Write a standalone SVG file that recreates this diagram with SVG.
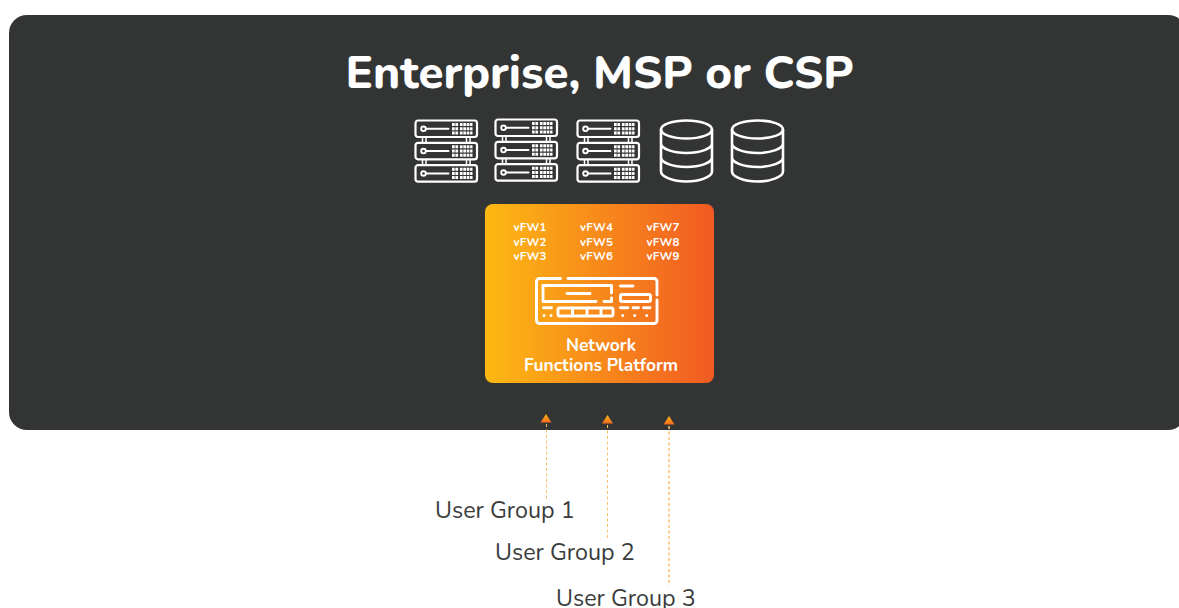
<svg xmlns="http://www.w3.org/2000/svg" width="1179" height="608" viewBox="0 0 1179 608">
<style>
text{font-family:"Nunito","Lato","Open Sans",sans-serif}
.ttl{font-size:45.600px;font-weight:800;fill:#fff;text-anchor:middle}
.fw{font-size:11.500px;font-weight:700;fill:#fff;text-anchor:middle;letter-spacing:.2px}
.nf{font-size:17.400px;font-weight:700;fill:#fff;text-anchor:middle}
.ug{font-size:23.300px;fill:#3a3c3c}
.ln{fill:none;stroke:#fff;stroke-linecap:round;stroke-linejoin:round}
.dash{fill:none;stroke:#fbbf6c;stroke-dasharray:3 2.5}
</style>
<defs>
<linearGradient id="og" x1="0" y1="0" x2="1" y2="0"><stop offset="0" stop-color="#fdb913"/><stop offset="1" stop-color="#f15a22"/></linearGradient>
<linearGradient id="ar" x1="0" y1="0" x2="0" y2="1"><stop offset="0" stop-color="#fdb913"/><stop offset="1" stop-color="#f26a21"/></linearGradient>
<g id="row">
<rect x="1" y="1" width="61.500" height="16.500" rx="2.500" class="ln" stroke-width="2.200"/>
<circle cx="9" cy="9.300" r="2.300" class="ln" stroke-width="1.900"/>
<path d="M11.500 9.300H34" class="ln" stroke-width="2"/>
<path d="M37.500 5H58M37.500 9.200H58M37.500 13.400H58" fill="none" stroke="#fff" stroke-width="3" stroke-dasharray="2.700 .7 2.700 1.800 2.700 .7 2.700 .7 2.700 .7"/>
</g>
<g id="server">
<use href="#row"/><use href="#row" y="22.300"/><use href="#row" y="44.700"/>
<path d="M8 18V23M11.500 18V23M52 18V23M55.500 18V23M8 40.500V45M11.500 40.500V45M52 40.500V45M55.500 40.500V45" class="ln" stroke-width="1.500"/>
</g>
<g id="db">
<ellipse cx="26.500" cy="10" rx="25.500" ry="9" class="ln" stroke-width="2.600"/>
<path d="M1 10V52C1 57 12.500 62 26.500 62S52 57 52 52V10M1 24C1 29 12.500 33.500 26.500 33.500S52 29 52 24M1 38C1 43 12.500 47.500 26.500 47.500S52 43 52 38" class="ln" stroke-width="2.600"/>
</g>
</defs>

<g id="panel">
<rect x="9" y="15" width="1177" height="415" rx="18" fill="#333534"/>
<text class="ttl" x="599.500" y="88">Enterprise, MSP or CSP</text>
</g>

<g id="server-1"><use href="#server" x="414.500" y="119.500"/></g>
<g id="server-2"><use href="#server" x="494.500" y="118.500"/></g>
<g id="server-3"><use href="#server" x="576.500" y="119.500"/></g>
<g id="database-1"><use href="#db" x="660" y="119.500"/></g>
<g id="database-2"><use href="#db" x="731" y="119.500"/></g>

<g id="platform">
<rect x="485" y="204" width="229" height="179" rx="8" fill="url(#og)"/>
<text class="fw" x="530" y="231">vFW1</text><text class="fw" x="530" y="246">vFW2</text><text class="fw" x="530" y="260">vFW3</text>
<text class="fw" x="596.500" y="231">vFW4</text><text class="fw" x="596.500" y="246">vFW5</text><text class="fw" x="596.500" y="260">vFW6</text>
<text class="fw" x="663" y="231">vFW7</text><text class="fw" x="663" y="246">vFW8</text><text class="fw" x="663" y="260">vFW9</text>
<g class="ln" stroke-width="2.900">
<path d="M560.500 278.500H539.500a3 3 0 0 0-3 3V320.500a3 3 0 0 0 3 3H654a3 3 0 0 0 3-3V300M657 295V281.500a3 3 0 0 0-3-3H568"/>
<path d="M596 301.500H543V285.500H611.500V293M604 301.500H611.500V298"/>
<path d="M567 293.500H590M620.500 286H633"/>
<rect x="620.500" y="294.500" width="30" height="7" rx="1.500"/>
<path d="M543.500 307.700H551.500M620.500 307.700H628M633 307.700H638.500M643.500 307.700H650"/>
<rect x="558" y="308" width="55" height="8" rx="1.500"/>
<path d="M572.500 308V316M587 308V316M601 308V316"/>
</g>
<g fill="#fff"><circle cx="544" cy="315.500" r="1.500"/><circle cx="551" cy="315.500" r="1.500"/><circle cx="622.700" cy="315.500" r="1.500"/><circle cx="634.700" cy="315.500" r="1.500"/><circle cx="646.700" cy="315.500" r="1.500"/></g>
<text class="nf" x="601" y="351">Network</text>
<text class="nf" x="601" y="371">Functions Platform</text>
</g>

<g id="connectors">
<path class="dash" d="M546.500 424V501"/>
<path class="dash" d="M607.500 425V539"/>
<path class="dash" d="M669 426V586" stroke-width="1.500"/>
<path d="M546 414L551.500 422.500H540.500Z" fill="url(#ar)"/>
<path d="M607.500 415L613 423.500H602Z" fill="url(#ar)"/>
<path d="M669 416L674.500 424.500H663.500Z" fill="url(#ar)"/>
</g>

<g id="user-group-1"><text class="ug" x="435" y="518">User Group 1</text></g>
<g id="user-group-2"><text class="ug" x="495" y="560">User Group 2</text></g>
<g id="user-group-3"><text class="ug" x="556" y="605.500">User Group 3</text></g>
</svg>
